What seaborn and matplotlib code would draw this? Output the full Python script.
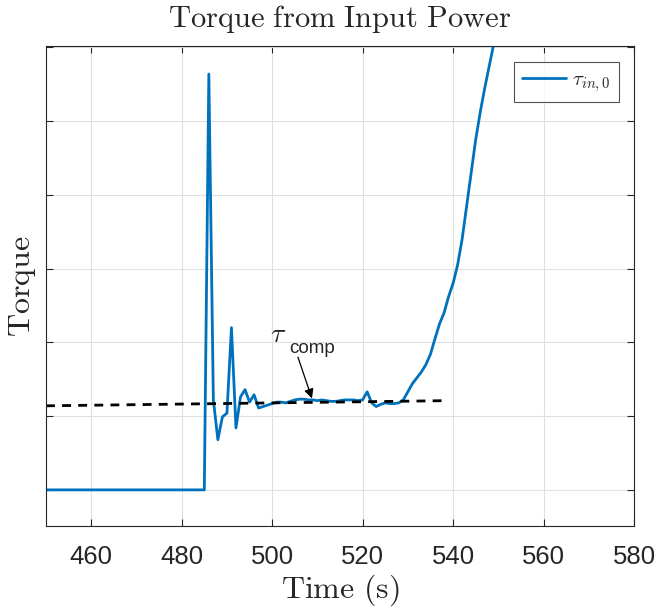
import numpy as np
import pandas as pd
import matplotlib
matplotlib.use("Agg")
import matplotlib.pyplot as plt
import seaborn as sns

# ---- data (arbitrary torque units) ----
time_s = [450, 485, 486, 487, 488, 489, 490, 491, 492, 493, 494, 495, 496, 497, 498, 499,
          500, 501, 502, 503, 504, 505, 506, 507, 508, 509, 510, 511, 512, 513, 514, 515,
          516, 517, 518, 519, 520, 521, 522, 523, 524, 525, 526, 527, 528, 529, 530, 531,
          532, 533, 534, 535, 536, 537, 538, 539, 540, 541, 542, 543, 544, 545, 546, 547,
          548, 549, 550]
torque = [0.0, 0.0, 5.64, 1.22, 0.68, 0.99, 1.04, 2.20, 0.84, 1.26, 1.36, 1.19, 1.29, 1.11, 1.13, 1.15,
          1.17, 1.19, 1.19, 1.18, 1.20, 1.22, 1.23, 1.23, 1.22, 1.22, 1.21, 1.22, 1.21, 1.20, 1.20, 1.21,
          1.22, 1.22, 1.22, 1.21, 1.22, 1.33, 1.18, 1.13, 1.16, 1.18, 1.17, 1.17, 1.18, 1.22, 1.33, 1.44,
          1.52, 1.60, 1.70, 1.84, 2.05, 2.25, 2.40, 2.62, 2.80, 3.05, 3.40, 3.85, 4.30, 4.75, 5.12, 5.45,
          5.75, 6.05, 6.40]
comp_time = [450, 538.7]
comp_torque = [1.14, 1.21]
x_ticks = [460, 480, 500, 520, 540, 560, 580]

sns.set_style("whitegrid")
plt.rcParams["mathtext.fontset"] = "cm"
plt.rcParams["font.family"] = ["Liberation Sans", "DejaVu Sans"]

fig = plt.figure(figsize=(6.59, 6.09), dpi=100)
ax = fig.add_axes([46/659, 1-526/609, (634-46)/659, (526-46)/609])

df = pd.DataFrame({"t": time_s, "tau": torque})
sns.lineplot(data=df, x="t", y="tau", ax=ax, color="#0072BD", linewidth=2.0,
             label=r"$\tau_{in,0}$", estimator=None, sort=False)
ax.plot(comp_time, comp_torque, color="black", linestyle=(0, (3.2, 2.6)), linewidth=2.0)

ax.set_xlim(450, 580)
ax.set_ylim(-0.49, 6.02)
ax.set_xticks(x_ticks)
ax.set_yticks([0, 1, 2, 3, 4, 5, 6])
ax.set_yticklabels([])
ax.tick_params(axis="x", labelsize=18.5, pad=14, labelcolor="#262626")
ax.tick_params(direction="in", length=5, width=0.8, color="#262626",
               top=True, right=True, left=True, bottom=True)
ax.grid(True, color="#e0e0e0", linewidth=0.8)
for s in ax.spines.values():
    s.set_color("#262626")
    s.set_linewidth(0.8)
    s.set_visible(True)

ax.set_title(r"$\mathrm{Torque\ from\ Input\ Power}$", fontsize=22, pad=14)
ax.set_xlabel(r"$\mathrm{Time\ (s)}$", fontsize=23, labelpad=2)
ax.set_ylabel(r"$\mathrm{Torque}$", fontsize=23, labelpad=2)

# annotation tau_comp
ax.annotate("", xy=(508.8, 1.24), xytext=(505.7, 1.80),
            arrowprops=dict(arrowstyle="-|>", color="black", lw=0.9,
                            mutation_scale=14, shrinkA=0, shrinkB=0))
ax.text(501.3, 2.10, r"$\tau$", fontsize=20, ha="center", va="center")
ax.text(503.8, 1.92, "comp", fontsize=13.5, ha="left", va="center",
        family=["Liberation Sans", "DejaVu Sans"])

leg = ax.legend(loc="upper right", fontsize=15, frameon=True, fancybox=False,
                edgecolor="#262626", handlelength=2.1, borderpad=0.4,
                bbox_to_anchor=(0.9745, 0.9667), handletextpad=0.3,
                borderaxespad=0)
leg.get_frame().set_linewidth(0.8)

fig.savefig("out.png", dpi=100)
